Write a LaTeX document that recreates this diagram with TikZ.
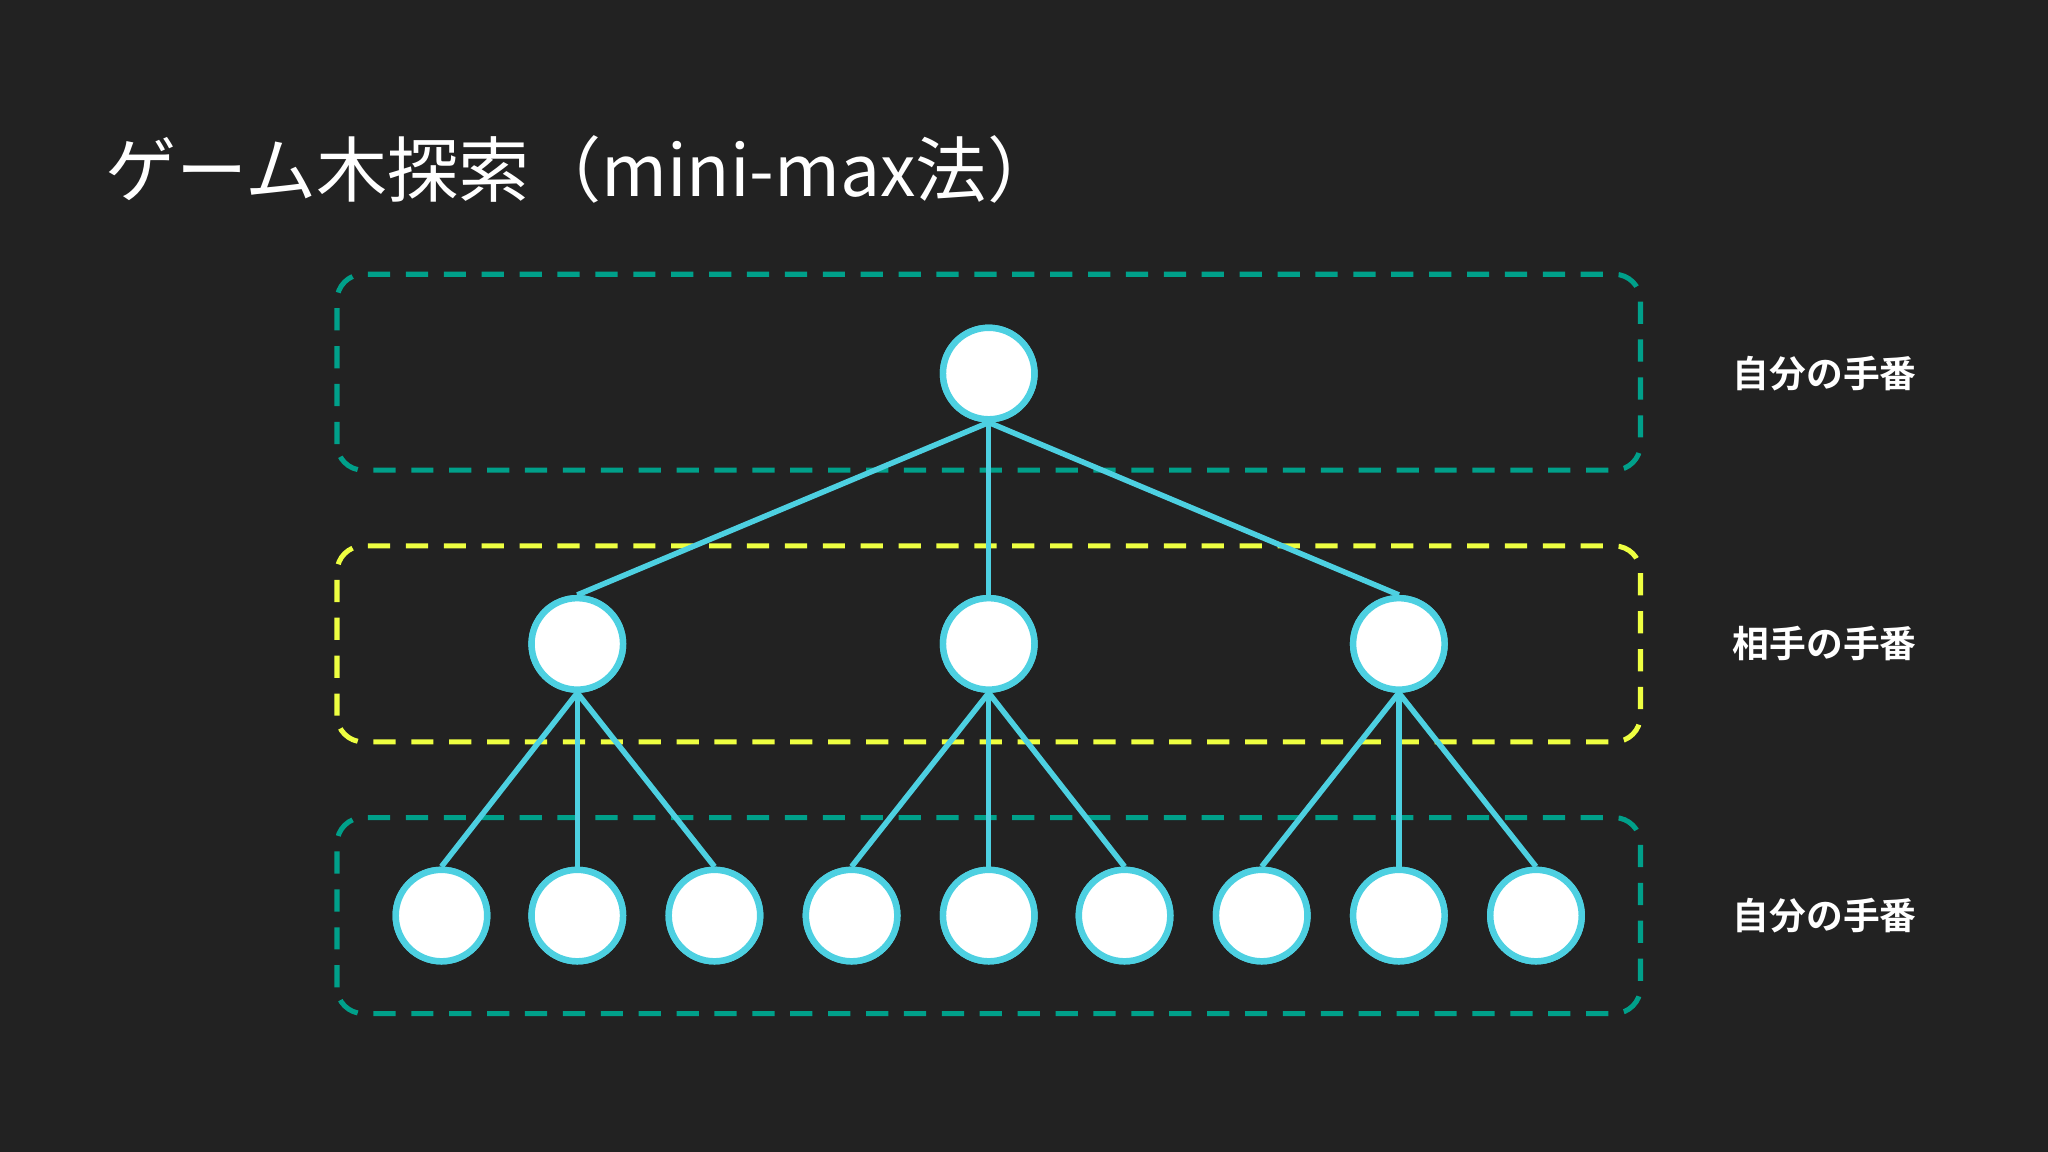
\documentclass[tikz,border=0pt]{standalone}
\usepackage{fontspec}
\setmainfont{Noto Sans CJK JP}
\newfontfamily\cjkb{Noto Sans CJK JP Bold}
\begin{document}
\begin{tikzpicture}[x=0.01cm,y=0.01cm,
  tnode/.style={circle,draw=cyan!60!teal!40!white,fill=white,line width=1.4pt,minimum size=0.7cm,inner sep=0pt},
  edge/.style={draw=cyanline,line width=1.2pt},
  lvlbox/.style={dashed,line width=1.1pt,rounded corners=0.2cm,dash pattern=on 0.17cm off 0.12cm},
  lbl/.style={text=white,font=\cjkb\fontsize{8}{10}\selectfont}]
\definecolor{bg}{HTML}{222222}
\definecolor{cyanline}{HTML}{4DD0E1}
\definecolor{tealb}{HTML}{00A08A}
\definecolor{yel}{HTML}{EEFF41}
\tikzset{tnode/.append style={draw=cyanline}}
\fill[bg] (0,0) rectangle (1568,882);
\useasboundingbox (0,0) rectangle (1568,882);
\node[anchor=west,text=white,font=\fontsize{15.5}{18}\selectfont] (title) at (68,752) {ゲーム木探索（mini-max法）};
\draw[lvlbox,tealb] (258,522) rectangle (1256,672);
\draw[lvlbox,yel] (258,314) rectangle (1256,464);
\draw[lvlbox,tealb] (258,106) rectangle (1256,256);
\node[lbl] (l1) at (1397,596) {自分の手番};
\node[lbl] (l2) at (1397,389) {相手の手番};
\node[lbl] (l3) at (1397,181) {自分の手番};
\node[tnode] (r) at (757,596) {};
\foreach \x/\n in {442/a,757/b,1071/c} \node[tnode] (\n) at (\x,389) {};
\foreach \x/\n in {338/a1,442/a2,547/a3,652/b1,757/b2,861/b3,966/c1,1071/c2,1176/c3} \node[tnode] (\n) at (\x,181) {};
\begin{scope}[on background layer/.style={}]
\end{scope}
\foreach \p in {a,b,c} \draw[edge] (r.south) -- (\p.north);
\foreach \p in {a,b,c} \foreach \i in {1,2,3} \draw[edge] (\p.south) -- (\p\i.north);
\node[tnode] at (r) {};
\foreach \n in {a,b,c,a1,a2,a3,b1,b2,b3,c1,c2,c3} \node[tnode] at (\n) {};
\end{tikzpicture}
\end{document}
